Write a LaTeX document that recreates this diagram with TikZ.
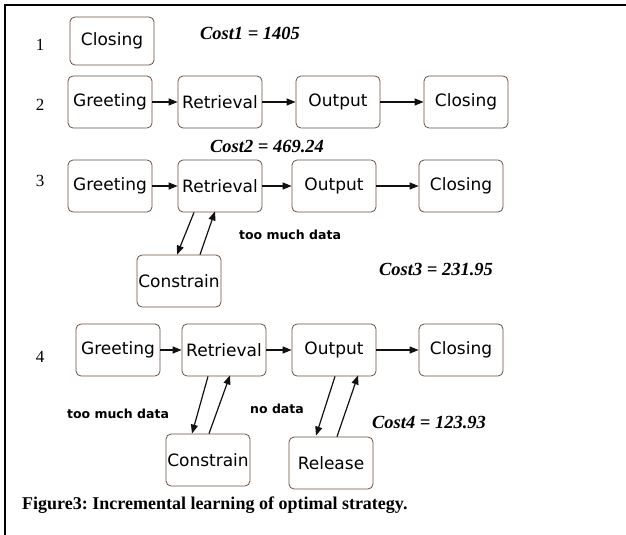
\documentclass[tikz,border=0pt]{standalone}
\usepackage{fontspec}
\setmainfont{Liberation Serif}
\newfontfamily\handfont{DejaVu Sans}
\usetikzlibrary{arrows.meta,calc,positioning}
\definecolor{Ink}{HTML}{111111}
\definecolor{BoxBrown}{HTML}{6B5040}
\tikzset{
  stateBox/.style={rectangle,rounded corners=5pt,draw=BoxBrown,thick,fill=white,
    minimum width=84pt,minimum height=52pt,inner sep=1pt,
    font=\handfont\fontsize{17}{19}\selectfont},
  flowArrow/.style={-{Triangle[length=9pt,width=7pt]},draw=Ink,line width=1.2pt},
  costLabel/.style={font=\bfseries\itshape\fontsize{18.5}{20}\selectfont},
  rowNum/.style={font=\fontsize{17}{19}\selectfont},
  noteLabel/.style={font=\handfont\bfseries\fontsize{12.5}{14}\selectfont},
  caption/.style={font=\bfseries\fontsize{18}{20}\selectfont,anchor=west,inner sep=0pt}
}
\begin{document}
\frenchspacing
\begin{tikzpicture}[x=1pt,y=-1pt]
  \useasboundingbox (0,0) rectangle (626,535);
  % frame
  \coordinate (fr1) at (5,5);
  \coordinate (fr2) at (626,5);
  \coordinate (fr3) at (5,535);
  \draw[line width=2pt] (fr2) -- (fr1) -- (fr3);

  % row 1
  \node[rowNum] (n1) at (40,45) {1};
  \node[stateBox,minimum height=48pt] (c1) at (112,41) {Closing};
  \node[costLabel] (k1) at (250,33) {Cost1 = 1405};

  % row 2
  \node[rowNum] (n2) at (40,105) {2};
  \node[stateBox] (g2) at (110,102) {Greeting};
  \node[stateBox] (r2) at (220,102) {Retrieval};
  \node[stateBox] (o2) at (338,102) {Output};
  \node[stateBox] (c2) at (466,102) {Closing};
  \node[costLabel] (k2) at (267,147) {Cost2 = 469.24};
  \draw[flowArrow] (g2) -- (r2);
  \draw[flowArrow] (r2) -- (o2);
  \draw[flowArrow] (o2) -- (c2);

  % row 3
  \node[rowNum] (n3) at (40,181) {3};
  \node[stateBox] (g3) at (110,186) {Greeting};
  \node[stateBox] (r3) at (220,186) {Retrieval};
  \node[stateBox] (o3) at (334,186) {Output};
  \node[stateBox] (c3) at (461,186) {Closing};
  \node[stateBox] (s3) at (179,281) {Constrain};
  \node[noteLabel] (t3) at (290,235) {too much data};
  \node[costLabel] (k3) at (436,270) {Cost3 = 231.95};
  \draw[flowArrow] (g3) -- (r3);
  \draw[flowArrow] (r3) -- (o3);
  \draw[flowArrow] (o3) -- (c3);
  \draw[flowArrow] ($(r3.south)+(-26,0)$) -- ($(s3.north)+(-2,0)$);
  \draw[flowArrow] ($(s3.north)+(21,0)$) -- ($(r3.south)+(-5,-1)$);

  % row 4
  \node[rowNum] (n4) at (40,357) {4};
  \node[stateBox] (g4) at (118,350) {Greeting};
  \node[stateBox] (r4) at (224,350) {Retrieval};
  \node[stateBox] (o4) at (334,350) {Output};
  \node[stateBox] (c4) at (461,350) {Closing};
  \node[stateBox] (s4) at (208,460) {Constrain};
  \node[stateBox] (e4) at (331,463) {Release};
  \node[noteLabel] (t4) at (118,414) {too much data};
  \node[noteLabel] (d4) at (277,409) {no data};
  \node[costLabel] (k4) at (429,423) {Cost4 = 123.93};
  \draw[flowArrow] (g4) -- (r4);
  \draw[flowArrow] (r4) -- (o4);
  \draw[flowArrow] (o4) -- (c4);
  \draw[flowArrow] ($(r4.south)+(-16,0)$) -- ($(s4.north)+(-16,0)$);
  \draw[flowArrow] ($(s4.north)+(1,0)$) -- ($(r4.south)+(6,-1)$);
  \draw[flowArrow] ($(o4.south)+(1,0)$) -- ($(e4.north)+(-15,-1)$);
  \draw[flowArrow] ($(e4.north)+(6,0)$) -- ($(o4.south)+(24,-1)$);

  % caption
  \node[caption] (cap) at (22,505) {Figure3: Incremental learning of optimal strategy.};
\end{tikzpicture}
\end{document}
